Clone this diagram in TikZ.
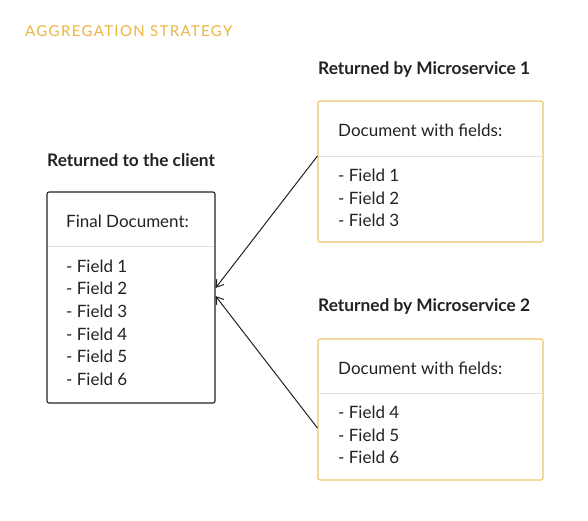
\documentclass[tikz,border=0pt]{standalone}
\usepackage{fontspec}
\setmainfont{Lato}
\newfontfamily\titlefont[LetterSpace=9]{Lato}
\usetikzlibrary{arrows.meta}
\definecolor{gold}{HTML}{EDB440}
\definecolor{goldbox}{HTML}{F0C36E}
\definecolor{ink}{HTML}{222222}
\definecolor{rule}{HTML}{E2E2E2}
\tikzset{
  box/.style={draw, rounded corners=2pt, line width=1.1pt, inner sep=0pt},
  txt/.style={anchor=west, inner sep=0pt, font=\fontsize{17}{20}\selectfont, text=ink},
  lbl/.style={anchor=west, inner sep=0pt, font=\fontsize{17.3}{20}\selectfont\bfseries, text=ink},
  divider/.style={draw=rule, line width=0.8pt},
  arr/.style={draw=ink, line width=1pt, -{Straight Barb[length=7pt,width=9pt]}}
}
\begin{document}
\begin{tikzpicture}[x=1pt,y=-1pt]
\useasboundingbox (0,0) rectangle (588,520);
\fill[white] (0,0) rectangle (588,520);
% title
\node[anchor=west, inner sep=0pt, text=gold, font=\fontsize{15}{17}\selectfont\titlefont] (title) at (25,31) {AGGREGATION STRATEGY};
% left box
\node[lbl] (lc) at (47,160) {Returned to the client};
\node[box, draw=ink, minimum width=168pt, minimum height=211pt] (final) at (131,297.5) {};
\draw[divider] (47.6,246) -- (214.4,246);
\node[txt] (fh) at (66,221) {Final Document:};
\node[txt] (f1) at (66,266) {- Field 1};
\node[txt] (f2) at (66,288.6) {- Field 2};
\node[txt] (f3) at (66,311.2) {- Field 3};
\node[txt] (f4) at (66,333.8) {- Field 4};
\node[txt] (f5) at (66,356.4) {- Field 5};
\node[txt] (f6) at (66,379) {- Field 6};
% top right box
\node[lbl] (l1) at (318,70) {Returned by Microservice 1};
\node[box, draw=goldbox, minimum width=225pt, minimum height=141pt] (m1) at (430.5,171.5) {};
\draw[divider] (318.6,156) -- (542.4,156);
\node[txt] (m1h) at (338,130) {Document with fields:};
\node[txt] (a1) at (338,175.5) {- Field 1};
\node[txt] (a2) at (338,198) {- Field 2};
\node[txt] (a3) at (338,220.5) {- Field 3};
% bottom right box
\node[lbl] (l2) at (318,307) {Returned by Microservice 2};
\node[box, draw=goldbox, minimum width=225pt, minimum height=141pt] (m2) at (430.5,409.5) {};
\draw[divider] (318.6,393) -- (542.4,393);
\node[txt] (m2h) at (338,368) {Document with fields:};
\node[txt] (b1) at (338,412.5) {- Field 4};
\node[txt] (b2) at (338,435) {- Field 5};
\node[txt] (b3) at (338,457.5) {- Field 6};
% connectors
\coordinate (s1) at (m1.west |- 0,156);
\coordinate (s2) at (m2.west |- 0,428);
\coordinate (t1) at (final.east |- 0,288);
\coordinate (t2) at (final.east |- 0,296);
\draw[arr] (s1) -- (t1);
\draw[arr] (s2) -- (t2);
\end{tikzpicture}
\end{document}
